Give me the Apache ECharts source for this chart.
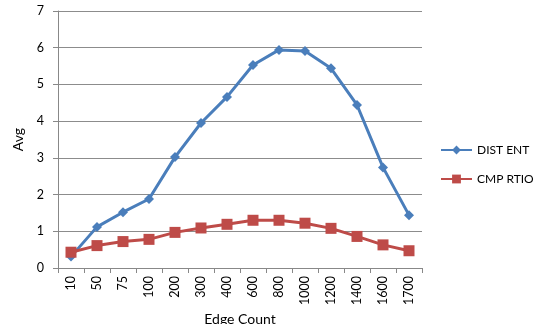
<!DOCTYPE html>
<html><head><meta charset="utf-8">
<script src="https://cdn.jsdelivr.net/npm/echarts@6/dist/echarts.min.js"></script>
<style>html,body{margin:0;padding:0;background:#fff}#c{width:542px;height:324px}</style>
</head><body><div id="c"></div>
<script>
const categories = ['10','50','75','100','200','300','400','600','800','1000','1200','1400','1600','1700'];
const distEnt = [0.31,1.12,1.52,1.88,3.02,3.95,4.66,5.53,5.94,5.91,5.44,4.44,2.74,1.44];
const cmpRtio = [0.43,0.61,0.72,0.78,0.97,1.09,1.19,1.30,1.30,1.22,1.08,0.86,0.63,0.47];
const yTicks = [0,1,2,3,4,5,6,7];
const font = 'Lato, "Open Sans", sans-serif';
const chart = echarts.init(document.getElementById('c'));
chart.setOption({
  animation:false,
  grid:{left:58,right:120,top:11,bottom:56,containLabel:false,outerBoundsMode:'none'},
  legend:{orient:'vertical',left:435,top:139,itemGap:17,itemWidth:31,itemHeight:11,
    textStyle:{fontFamily:font,fontSize:12,color:'#000'},
    data:['DIST ENT','CMP RTIO']},
  xAxis:{type:'category',data:categories,boundaryGap:true,
    name:'Edge Count',nameLocation:'middle',nameGap:35,
    nameTextStyle:{fontFamily:font,fontSize:14,color:'#000'},
    axisLine:{lineStyle:{color:'#888',width:1}},
    axisTick:{show:true,length:5,alignWithLabel:false,lineStyle:{color:'#888'}},
    axisLabel:{rotate:90,fontFamily:font,fontSize:12.5,color:'#000',margin:8}},
  yAxis:{type:'value',min:0,max:7,interval:1,
    name:'Avg',nameLocation:'middle',nameGap:32,nameRotate:90,
    nameTextStyle:{fontFamily:font,fontSize:14,color:'#000'},
    axisLine:{show:true,lineStyle:{color:'#888',width:1}},
    axisTick:{show:true,length:5,inside:false,lineStyle:{color:'#888'}},
    splitLine:{lineStyle:{color:'#8c8c8c',width:1}},
    axisLabel:{fontFamily:font,fontSize:12.5,color:'#000',margin:14}},
  series:[
    {name:'DIST ENT',type:'line',data:distEnt,symbol:'diamond',symbolSize:10,
     itemStyle:{color:'#4a7ebb'},lineStyle:{color:'#4a7ebb',width:3}},
    {name:'CMP RTIO',type:'line',data:cmpRtio,symbol:'rect',symbolSize:11,
     itemStyle:{color:'#be4b48'},lineStyle:{color:'#be4b48',width:3}}
  ]
});
</script></body></html>
